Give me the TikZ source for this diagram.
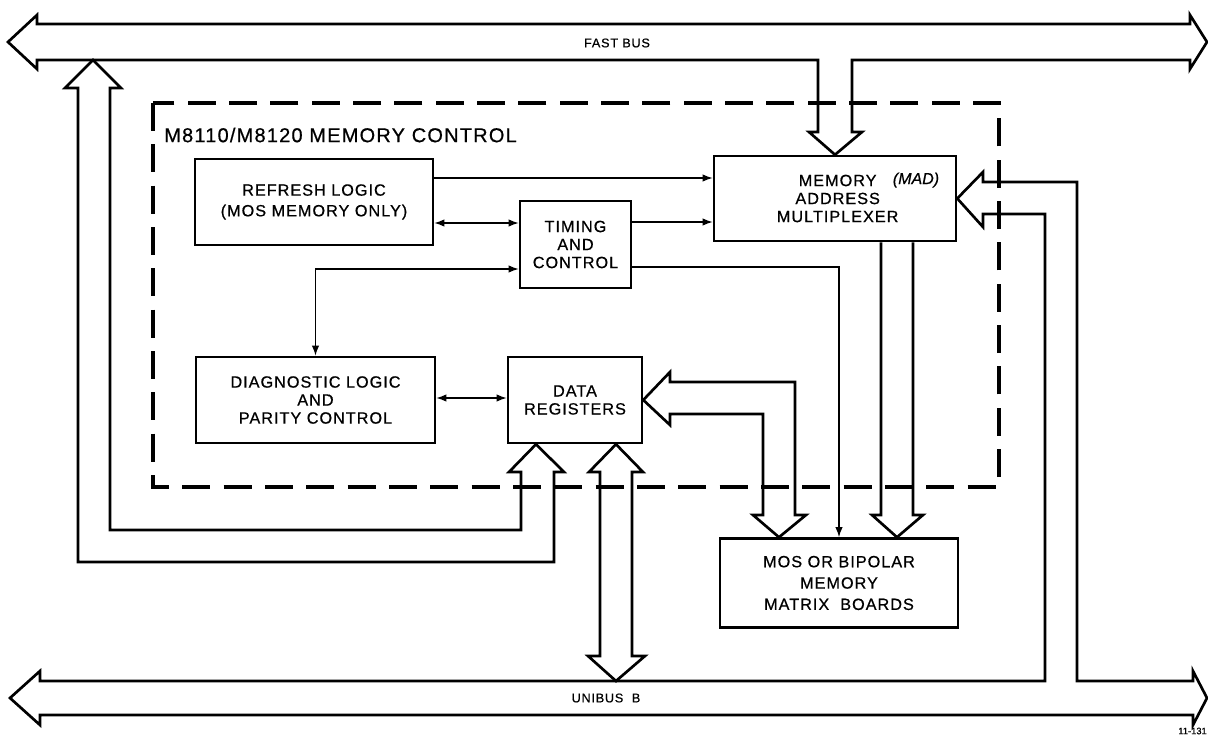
\documentclass[tikz,border=0pt]{standalone}
\usepackage{fontspec}
\setmainfont{Liberation Sans}[FakeBold=0.6]
\newfontfamily\lblfont{Liberation Sans}[FakeBold=0.6,LetterSpace=6]
\usetikzlibrary{arrows.meta}
\begin{document}
\begin{tikzpicture}[x=0.75pt,y=-0.75pt,
  box/.style={draw, line width=1.9pt, align=center, inner sep=0pt, font=\lblfont\fontsize{12.2}{13.5}\selectfont},
  thin/.style={line width=1pt},
  tipx/.style={-{Latex[length=7.5pt,width=5.5pt]}},
  tipxx/.style={{Latex[length=7.5pt,width=5.5pt]}-{Latex[length=7.5pt,width=5.5pt]}},
  fat/.style={line width=2pt, line join=miter},
  dashbox/.style={line width=3pt, dash pattern=on 21pt off 10pt},
  lbl/.style={font=\lblfont\fontsize{9.5}{11}\selectfont, inner sep=0pt}]
\useasboundingbox (0,0) rectangle (1208,739);
\fill[white] (0,0) rectangle (1208,739);

% dashed enclosure
\draw[dashbox] (153,103) rectangle (999,487);
\node[anchor=west, inner sep=0pt, font=\lblfont\fontsize{15}{17}\selectfont] (title) at (164,135) {M8110/M8120 MEMORY CONTROL};

% blocks
\node[box, minimum width=178.5pt, minimum height=64.5pt] (refresh) at (314,202) {REFRESH LOGIC\\[2pt](MOS MEMORY ONLY)};
\node[box, minimum width=83.25pt, minimum height=65.25pt] (timing) at (575.5,244.5) {TIMING\\AND\\CONTROL};
\node[box, minimum width=181.5pt, minimum height=63.75pt] (mad) at (835,198.5) {\hspace*{4pt}MEMORY\\\hspace*{4pt}ADDRESS\\\hspace*{4pt}MULTIPLEXER};
\node[inner sep=0pt, font=\itshape\fontsize{12}{13}\selectfont] (madtag) at (916,180) {(MAD)};
\node[box, minimum width=179.25pt, minimum height=64.5pt] (diag) at (315.5,400) {DIAGNOSTIC LOGIC\\AND\\PARITY CONTROL};
\node[box, minimum width=100.5pt, minimum height=64.5pt] (dr) at (575,400) {DATA\\REGISTERS};
\node[box, minimum width=178.5pt, minimum height=66.75pt, font=\lblfont\fontsize{12.2}{16}\selectfont] (mem) at (839,583) {MOS OR BIPOLAR\\MEMORY\\MATRIX\ \ BOARDS};

% thin connectors
\draw[thin, tipx] (refresh.east |- 0,178) -- (mad.west |- 0,178);
\draw[thin, tipxx] (refresh.east |- 0,223) -- (timing.west |- 0,223);
\draw[thin, tipx] (timing.east |- 0,222) -- (mad.west |- 0,222);
\draw[thin, tipxx] (diag.north) |- (timing.west |- 0,269);
\draw[thin, tipx] (timing.east |- 0,267) -| (mem.north);
\draw[thin, tipxx] (diag.east |- 0,398) -- (dr.west |- 0,398);

% FAST BUS with branch down into MAD
\draw[fat] (852,60) -- (1190,60) -- (1190,69) -- (1207,42) -- (1190,15) -- (1190,24)
  -- (37,24) -- (37,15) -- (8,42) -- (37,69) -- (37,60) -- (818,60) -- (818,132)
  -- (809,132) -- (mad.north) -- (862,132) -- (852,132) -- cycle;
\node[lbl] (fastbus) at (617,43) {FAST BUS};

% UNIBUS B with branch into MAD from the right
\draw[fat] (1045,214) -- (983,214) -- (983,227) -- (mad.east) -- (983,172) -- (983,182)
  -- (1077,182) -- (1077,681) -- (1193,681) -- (1193,671) -- (1207,698) -- (1193,725)
  -- (1193,715) -- (40,715) -- (40,725) -- (10,698) -- (40,671) -- (40,681) -- (1045,681) -- cycle;
\node[lbl] (unibus) at (606,698) {UNIBUS\ \ B};

% loop from FAST BUS to DATA REGISTERS
\draw[fat] (93,60) -- (121,88) -- (110,88) -- (110,530) -- (521,530) -- (521,472) -- (509,472)
  -- (dr.south -| 536,0) -- (564,472) -- (554,472) -- (554,562) -- (78,562) -- (78,88) -- (65,88) -- cycle;

% DATA REGISTERS <-> UNIBUS B
\draw[fat] (dr.south -| 616,0) -- (643,472) -- (632,472) -- (632,656) -- (645,656) -- (616,681)
  -- (588,656) -- (600,656) -- (600,472) -- (589,472) -- cycle;

% DATA REGISTERS <-> memory matrix
\draw[fat] (dr.east) -- (670,372) -- (670,382) -- (795,382) -- (795,515) -- (806,515)
  -- (mem.north -| 779,0) -- (753,515) -- (763,515) -- (763,414) -- (670,414) -- (670,425) -- cycle;

% MAD -> memory matrix
\draw[fat] (mad.south -| 881,0) -- (881,515) -- (872,515) -- (mem.north -| 897,0) -- (923,515) -- (913,515) -- (mad.south -| 913,0);

\node[anchor=east, inner sep=0pt, font=\fontsize{7}{8}\selectfont] (ref) at (1207,731) {11-131};
\end{tikzpicture}
\end{document}
